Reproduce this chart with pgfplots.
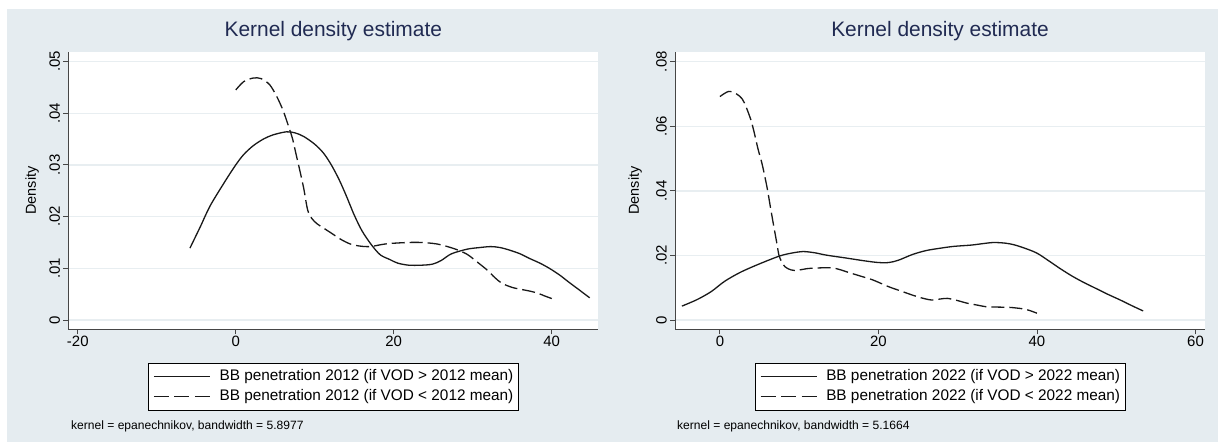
\documentclass[border=0pt]{standalone}
\usepackage{fontspec}
\setmainfont{Liberation Sans}
\usepackage{pgfplots}
\pgfplotsset{compat=1.18}

\definecolor{bgc}{RGB}{229,236,240}
\definecolor{gridc}{RGB}{232,238,241}
\definecolor{axisc}{RGB}{70,70,70}
\definecolor{titlec}{RGB}{32,42,82}
\definecolor{linec}{RGB}{25,25,25}

\pgfplotsset{
  kde/.style={
    scale only axis, width=530bp, height=277.6bp,
    anchor=south west,
    axis background/.style={fill=white},
    axis x line*=bottom, axis y line*=left,
    axis line style={draw=axisc, line width=0.9bp, -},
    tick align=outside, major tick length=5bp,
    tick style={draw=axisc, line width=0.9bp},
    scaled y ticks=false, scaled x ticks=false,
    ymajorgrids, grid style={draw=gridc, line width=1.3bp},
    ticklabel style={font=\fontsize{15}{18}\selectfont},
    yticklabel style={rotate=90, anchor=south, inner sep=3bp},
    xticklabel style={inner sep=2bp},
    ylabel=Density,
    ylabel style={font=\fontsize{14.5}{17}\selectfont, at={(axis description cs:-0.068,0.5)}, rotate=0, anchor=center},
    title style={font=\fontsize{21}{24}\selectfont, text=titlec, at={(axis description cs:0.5,1)}, anchor=base, yshift=9bp},
    title=Kernel density estimate,
    legend style={at={(axis description cs:0.5,-0.1203)}, anchor=north, draw=black, line width=0.8bp, fill=white,
      font=\fontsize{15.4}{18}\selectfont, inner xsep=5bp, inner ysep=4bp, row sep=0pt,
      nodes={text height=11bp, text depth=3.5bp, inner ysep=2.5bp, inner xsep=0pt}},
    legend cell align=left,
    legend image code/.code={\draw[#1, line width=1.3bp] (0bp,0bp) -- (56bp,0bp); \path (65bp,0bp);},
    solid line/.style={draw=linec, line width=1.3bp, smooth, no markers},
    dash line/.style={draw=linec, line width=1.3bp, smooth, no markers, dash pattern=on 13bp off 5bp,
      legend image post style={dash pattern=on 15bp off 5.5bp}},
  }
}

\begin{document}
\begin{tikzpicture}
\path[use as bounding box, fill=white] (0,0) rectangle (1220bp,442bp);
\fill[bgc] (7.3bp,0) rectangle (1217.7bp,432.7bp);

\begin{axis}[kde, at={(68.3bp,112.7bp)},
  xmin=-21.2, xmax=45.9, ymin=-0.0018, ymax=0.0519,
  xtick={-20,0,20,40}, xticklabels={-20,0,20,40},
  ytick={0,0.01,0.02,0.03,0.04,0.05}, yticklabels={0,.01,.02,.03,.04,.05}]
\addplot[solid line] coordinates {
(-5.8,0.0139) (-4.5,0.0180) (-3.2,0.0222) (-1.2,0.0272) (0,0.0300) (1,0.0320)
(2.2,0.0337) (3.5,0.0350) (4.7,0.0358) (6.4,0.0364) (7.5,0.0362) (8.6,0.0355)
(10,0.0340) (11.1,0.0323) (12.1,0.0300) (13.1,0.0271) (14,0.0240) (15,0.0203)
(16,0.0172) (17.2,0.0145) (18.3,0.0126) (19.5,0.0117) (20.5,0.0110) (21.9,0.0106)
(23.5,0.0106) (24.9,0.0108) (26,0.0115) (27.3,0.0128) (29.3,0.0137) (30.8,0.0140)
(32.3,0.0142) (33.5,0.0140) (34.7,0.0135) (36,0.0128) (37.2,0.0119) (38.5,0.0110)
(39.7,0.0100) (41,0.0087) (42.1,0.0074) (43.5,0.0058) (44.8,0.0043)
};
\addlegendentry{BB penetration 2012 (if VOD > 2012 mean)}
\addplot[dash line] coordinates {
(0,0.0445) (1,0.0461) (2.2,0.0468) (3.2,0.0467) (4.3,0.0455) (5.2,0.0432)
(6,0.0405) (6.7,0.0374) (7.2,0.0350) (7.6,0.0323) (8.1,0.0290) (8.6,0.0255)
(9.1,0.0213) (9.6,0.0197) (10.3,0.0186) (11.2,0.0177) (12.1,0.0168) (13.3,0.0156)
(14.5,0.0147) (15.7,0.0143) (17,0.0142) (18.5,0.0146) (19.5,0.0148) (21.9,0.0150)
(23.5,0.0150) (24.4,0.0149) (25.5,0.0147) (26.8,0.0142) (28,0.0136) (29.3,0.0127)
(30.5,0.0113) (31.8,0.0097) (32.8,0.0082) (33.7,0.0071) (35,0.0063) (36.2,0.0059)
(37.2,0.0056) (38.2,0.0052) (39.2,0.0046) (40.1,0.0041)
};
\addlegendentry{BB penetration 2012 (if VOD < 2012 mean)}
\end{axis}

\begin{axis}[kde, at={(675bp,112.7bp)},
  xmin=-5.67, xmax=61.2, ymin=-0.00288, ymax=0.0831,
  xtick={0,20,40,60}, xticklabels={0,20,40,60},
  ytick={0,0.02,0.04,0.06,0.08}, yticklabels={0,.02,.04,.06,.08},
  ylabel style={at={(axis description cs:-0.075,0.5)}}]
\addplot[solid line] coordinates {
(-4.8,0.0043) (-2.9,0.0063) (-1.1,0.0088) (0.6,0.0120) (2.6,0.0148) (5,0.0174)
(7.5,0.0198) (9,0.0207) (10.5,0.0212) (12,0.0208) (13.4,0.0201) (15.9,0.0192)
(18.3,0.0183) (20,0.0178) (21.3,0.0178) (22.5,0.0185) (24.3,0.0203) (26,0.0215)
(27.7,0.0222) (29.5,0.0228) (31.7,0.0232) (33,0.0236) (34.5,0.0240) (36,0.0238)
(37.1,0.0233) (38.5,0.0222) (40,0.0207) (41.5,0.0183) (43,0.0158) (44.5,0.0135)
(46,0.0115) (47.5,0.0097) (48.9,0.0080) (50.5,0.0062) (52,0.0044) (53.4,0.0028)
};
\addlegendentry{BB penetration 2022 (if VOD > 2022 mean)}
\addplot[dash line] coordinates {
(0,0.0692) (1.1,0.0708) (2.1,0.0700) (2.8,0.0685) (3.3,0.0660) (3.9,0.0620)
(4.3,0.0583) (4.8,0.0530) (5.3,0.0485) (5.7,0.0440) (6,0.0403) (6.4,0.0345)
(6.8,0.0289) (7.2,0.0235) (7.5,0.0196) (8.2,0.0165) (9,0.0155) (9.5,0.0153)
(10.5,0.0157) (11.4,0.0160) (13.9,0.0162) (15,0.0157) (16.4,0.0146) (18,0.0134)
(19.3,0.0124) (21.3,0.0103) (22.8,0.0090) (24.3,0.0077) (25.5,0.0068) (26.7,0.0062)
(27.8,0.0065) (28.7,0.0067) (30,0.0060) (31.2,0.0052) (32.5,0.0046) (33.6,0.0041)
(35,0.0040) (36.6,0.0039) (38.1,0.0035) (39,0.0030) (40,0.0021)
};
\addlegendentry{BB penetration 2022 (if VOD < 2022 mean)}
\end{axis}

\node[anchor=base west, inner sep=0pt, font=\fontsize{12.1}{14}\selectfont] at (71bp,13bp) {kernel = epanechnikov, bandwidth = 5.8977};
\node[anchor=base west, inner sep=0pt, font=\fontsize{12.1}{14}\selectfont] at (677bp,13bp) {kernel = epanechnikov, bandwidth = 5.1664};
\end{tikzpicture}
\end{document}
